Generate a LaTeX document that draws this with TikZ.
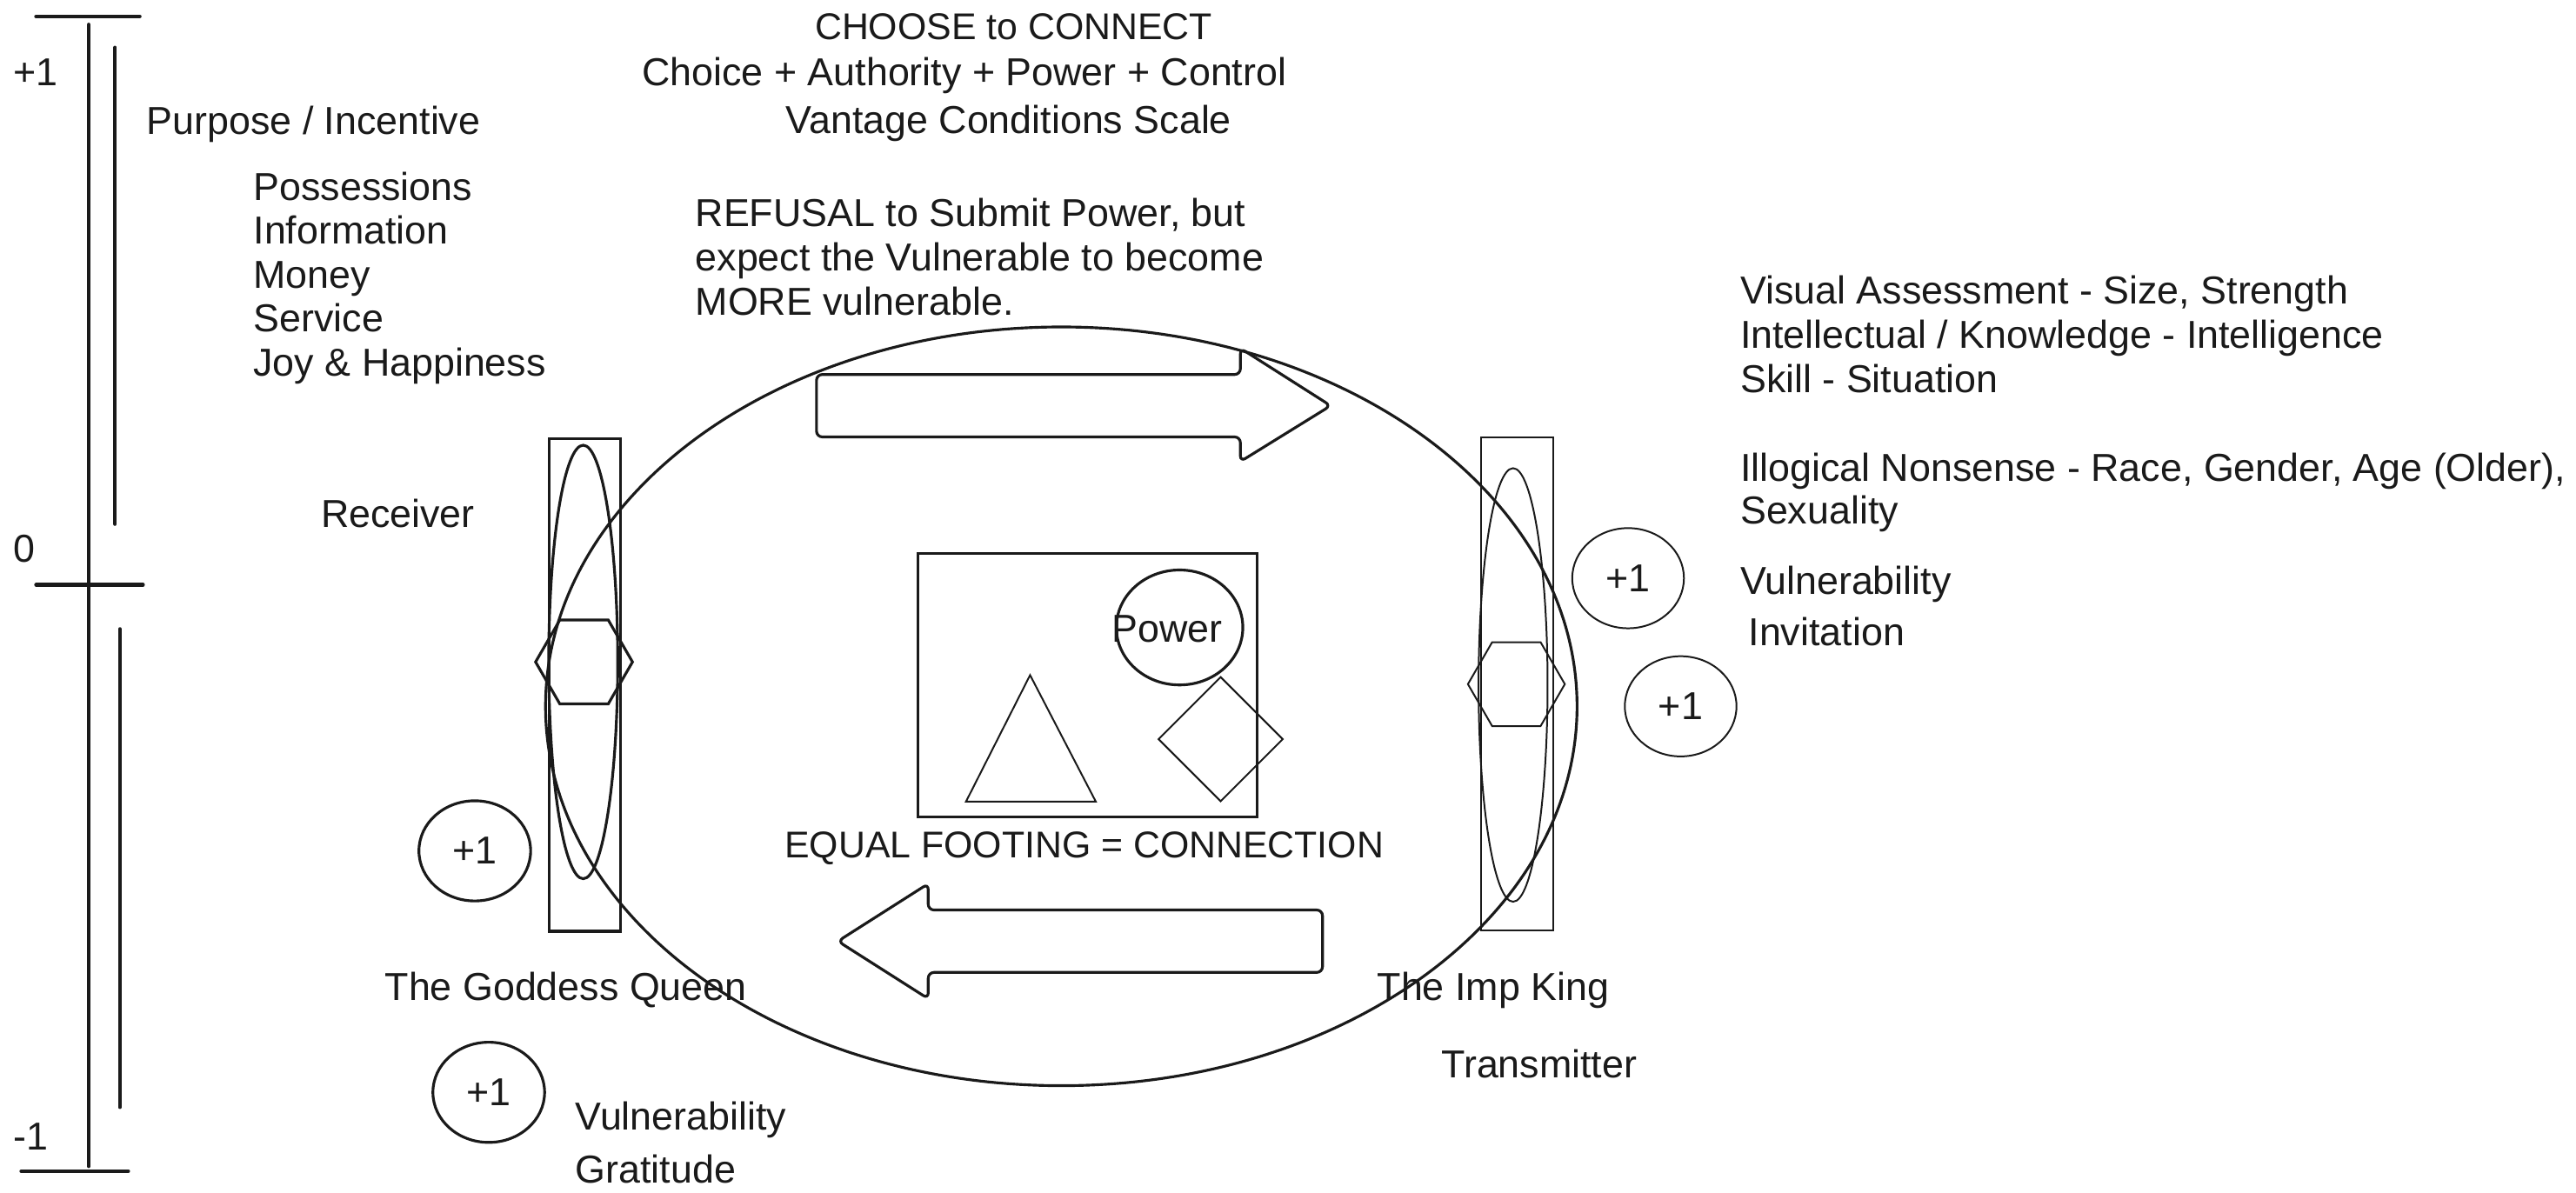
\documentclass[tikz,border=0pt]{standalone}
\usepackage{fontspec}
\setmainfont{Liberation Sans}
\usepackage{tikz}
\usetikzlibrary{shapes.geometric}
\definecolor{ink}{HTML}{1A1A1A}

\begin{document}
\begin{tikzpicture}[x=0.02cm, y=-0.02cm,
    txt/.style={anchor=base west, inner sep=0pt, text=ink, font=\fontsize{13.5}{15.3}\selectfont},
    ctxt/.style={txt, anchor=base},
    capstxt/.style={ctxt, font=\fontsize{12.9}{15.3}\selectfont},
    scaleline/.style={draw=ink, line width=1.35pt, line cap=round},
    thinline/.style={draw=ink, line width=0.6pt},
    medline/.style={draw=ink, line width=0.95pt},
    sidebox/.style={rectangle, minimum width=0.87cm, minimum height=6cm, inner sep=0pt},
    sideoval/.style={ellipse, minimum width=0.84cm, minimum height=5.28cm, inner sep=0pt},
    hexa/.style={regular polygon, regular polygon sides=6, minimum size=1.18cm, inner sep=0pt},
    plusone/.style={ellipse, minimum width=1.36cm, minimum height=1.22cm, inner sep=0pt, text=ink, font=\fontsize{13.5}{15.3}\selectfont},
    block/.style={medline, rounded corners=2pt}
  ]
  \useasboundingbox (0,0) rectangle (1568,726);

  % vantage scale
  \draw[scaleline] (22,10) -- (85,10);
  \draw[scaleline] (54,15) -- (54,710);
  \draw[scaleline] (22,356) -- (87,356);
  \draw[scaleline] (13,713) -- (78,713);
  \draw[scaleline] (70,29) -- (70,319);
  \draw[scaleline] (73,383) -- (73,674);
  \node[txt] (plus) at (8,52) {+1};
  \node[txt] (zero) at (8,342) {0};
  \node[txt] (minus) at (8,700) {-1};

  % heading
  \node[capstxt] (choose) at (617,24) {CHOOSE to CONNECT};
  \node[ctxt] (choice) at (587,52) {Choice + Authority + Power + Control};
  \node[ctxt] (vantage) at (614,81) {Vantage Conditions Scale};
  \foreach \t [count=\i] in {{REFUSAL to Submit Power, but}, {expect the Vulnerable to become}, {MORE vulnerable.}} {
    \node[txt] (refusal\i) at (423, 111+27*\i) {\t};
  }

  % incentives
  \node[txt] (purpose) at (89,82) {Purpose / Incentive};
  \foreach \t [count=\i] in {Possessions, Information, Money, Service, Joy \& Happiness} {
    \node[txt] (item\i) at (154, 95+26.8*\i) {\t};
  }

  % assessment
  \foreach \t [count=\i] in {{Visual Assessment - Size, Strength}, {Intellectual / Knowledge - Intelligence}, {Skill - Situation}} {
    \node[txt] (assess\i) at (1059, 158+27*\i) {\t};
  }
  \node[txt] (illogical) at (1059,293) {Illogical Nonsense - Race, Gender, Age (Older),};
  \node[txt] (sexuality) at (1059,319) {Sexuality};
  \node[txt] (vulnimp) at (1059,362) {Vulnerability};
  \node[txt] (invitation) at (1064,393) {Invitation};

  % connection ring
  \node[medline, ellipse, minimum width=12.56cm, minimum height=9.24cm, inner sep=0pt] (ring) at (646,430) {};
  \draw[block] (497,228) -- (755,228) -- (755,212) -- (810,247) -- (755,281) -- (755,266) -- (497,266) -- cycle;
  \draw[block] (805,554) -- (565,554) -- (565,538) -- (510,573) -- (565,608) -- (565,592) -- (805,592) -- cycle;

  % equal footing
  \node[medline, rectangle, minimum width=4.13cm, minimum height=3.21cm, inner sep=0pt] (footing) at (662,417) {};
  \node[medline, ellipse, minimum width=1.54cm, minimum height=1.40cm, inner sep=0pt] (powerring) at (718,382) {};
  \node[ctxt] (power) at (710.5,391) {Power};
  \draw[thinline] (627,411) -- (667,488) -- (588,488) -- cycle;
  \node[thinline, diamond, minimum width=1.52cm, minimum height=1.52cm, inner sep=0pt] (gem) at (743,450) {};
  \node[capstxt] (equal) at (660,522) {EQUAL FOOTING = CONNECTION};

  % goddess queen
  \node[medline, sidebox] (queenbox) at (356,417) {};
  \node[medline, sideoval] (queenoval) at (355,403) {};
  \node[medline, hexa] (queenhex) at (355.5,403) {};
  \node[medline, plusone] (queenone) at (289,518) {+1};
  \node[medline, plusone] (gratone) at (297.5,665) {+1};
  \node[txt] (receiver) at (195,321) {Receiver};
  \node[txt] (queen) at (234,609) {The Goddess Queen};
  \node[txt] (vulnqueen) at (350,688) {Vulnerability};
  \node[txt] (gratitude) at (350,720) {Gratitude};

  % imp king
  \node[thinline, sidebox] (kingbox) at (923.5,416.5) {};
  \node[thinline, sideoval] (kingoval) at (921,417) {};
  \node[thinline, hexa] (kinghex) at (923,416.5) {};
  \node[thinline, plusone] (kingone) at (991,352) {+1};
  \node[thinline, plusone] (inviteone) at (1023,430) {+1};
  \node[txt] (king) at (838,609) {The Imp King};
  \node[txt] (transmitter) at (877,656) {Transmitter};
\end{tikzpicture}
\end{document}
